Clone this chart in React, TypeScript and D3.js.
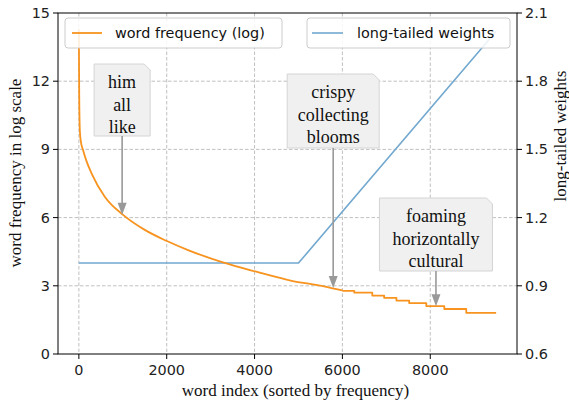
import React from "react";
import * as d3 from "d3";

// word frequency (log)
const freqIdx = [0, 3, 8, 23, 45, 98, 180, 288, 590, 1007, 1500, 1992, 2500, 3280, 4038, 4871, 5400, 5780, 6000];
const freqVal = [14.3, 13.0, 11.4, 9.8, 9.35, 8.95, 8.45, 7.95, 6.92, 6.12, 5.46, 4.98, 4.56, 4.03, 3.62, 3.21, 3.04, 2.89, 2.8];
// stepped tail of the same series
const tailIdx = [6000, 6270, 6680, 6950, 7230, 7520, 7910, 8320, 8820, 9500];
const tailVal = [2.78, 2.7, 2.57, 2.47, 2.35, 2.24, 2.11, 1.98, 1.81, 1.81];

// long-tailed weights
const weightIdx = [0, 5000, 9500];
const weightVal = [1.0, 1.0, 2.02];

const xTicks = [0, 2000, 4000, 6000, 8000];
const yTicks = [0, 3, 6, 9, 12, 15];
const y2Ticks = [0.6, 0.9, 1.2, 1.5, 1.8, 2.1];

const noteWords = [
  ["him", "all", "like"],
  ["crispy", "collecting", "blooms"],
  ["foaming", "horizontally", "cultural"],
];
const noteIdx = [985, 5790, 8130];
const noteVal = [6.12, 2.9, 2.1];

const W = 569,
  H = 407;
const margin = { top: 13, right: 52, bottom: 53, left: 58 };

const ORANGE = "#f7931e";
const BLUE = "#72a8cf";

// box layout (pixels): top, bottom, width
const noteBox = [
  { top: 64, bottom: 136, width: 56 },
  { top: 74, bottom: 148, width: 92 },
  { top: 198, bottom: 271, width: 113 },
];

const App: React.FC = () => {
  const x = d3
    .scaleLinear()
    .domain([-475, 9975])
    .range([margin.left, W - margin.right]);
  const y = d3
    .scaleLinear()
    .domain([0, 15])
    .range([H - margin.bottom, margin.top]);
  const y2 = d3
    .scaleLinear()
    .domain([0.6, 2.1])
    .range([H - margin.bottom, margin.top]);

  const smooth = d3
    .line<number>()
    .x((d) => x(freqIdx[d]))
    .y((d) => y(freqVal[d]))
    .curve(d3.curveMonotoneX);
  const steps = d3
    .line<number>()
    .x((d) => x(tailIdx[d]))
    .y((d) => y(tailVal[d]))
    .curve(d3.curveStepAfter);
  const wline = d3
    .line<number>()
    .x((d) => x(weightIdx[d]))
    .y((d) => y2(weightVal[d]));

  const x0 = margin.left,
    x1 = W - margin.right,
    yTop = margin.top,
    yBot = H - margin.bottom;

  const sans = "'DejaVu Sans', sans-serif";
  const serif = "'Liberation Serif', 'Times New Roman', serif";

  return (
    <div style={{ position: "fixed", left: 0, top: 0 }}>
      <svg width={W} height={H} style={{ display: "block", background: "#fff" }}>
        <defs>
          <clipPath id="plot">
            <rect x={x0} y={yTop} width={x1 - x0} height={yBot - yTop} />
          </clipPath>
        </defs>

        {/* grid */}
        <g stroke="#b0b0b0" strokeWidth={0.8} strokeDasharray="3.5,2">
          {xTicks.map((t) => (
            <line key={"gx" + t} x1={x(t)} x2={x(t)} y1={yTop} y2={yBot} />
          ))}
          {yTicks.slice(1, -1).map((t) => (
            <line key={"gy" + t} x1={x0} x2={x1} y1={y(t)} y2={y(t)} />
          ))}
        </g>

        {/* series */}
        <g clipPath="url(#plot)" fill="none" strokeLinejoin="round">
          <path d={wline(d3.range(weightIdx.length))!} stroke={BLUE} strokeWidth={1.6} />
          <path d={smooth(d3.range(freqIdx.length))!} stroke={ORANGE} strokeWidth={1.8} />
          <path d={steps(d3.range(tailIdx.length))!} stroke={ORANGE} strokeWidth={1.8} />
        </g>

        {/* annotations */}
        {noteWords.map((words, i) => {
          const b = noteBox[i];
          const cx = x(noteIdx[i]);
          const l = cx - b.width / 2,
            r = cx + b.width / 2,
            c = 6;
          const tipY = y(noteVal[i]);
          return (
            <g key={"note" + i}>
              <path
                d={`M${l},${b.top}H${r - c}L${r},${b.top + c}V${b.bottom}H${l}Z`}
                fill="#f0f0f0"
                stroke="#d4d4d4"
                strokeWidth={1}
              />
              <line x1={cx} x2={cx} y1={b.bottom} y2={tipY - 10} stroke="#999" strokeWidth={1.6} />
              <path d={`M${cx - 4.5},${tipY - 12}L${cx + 4.5},${tipY - 12}L${cx},${tipY}Z`} fill="#999" />
              {words.map((w, j) => (
                <text
                  key={w}
                  x={cx}
                  y={b.top + 24 + j * 22.5}
                  textAnchor="middle"
                  fontFamily={serif}
                  fontSize={18}
                  fill="#111"
                >
                  {w}
                </text>
              ))}
            </g>
          );
        })}

        {/* frame */}
        <rect x={x0} y={yTop} width={x1 - x0} height={yBot - yTop} fill="none" stroke="#000" strokeWidth={1} />

        {/* bottom axis */}
        {xTicks.map((t) => (
          <g key={"xt" + t} transform={`translate(${x(t)},${yBot})`}>
            <line y2={5} stroke="#000" />
            <text y={21} textAnchor="middle" fontFamily={sans} fontSize={14.4} fill="#222">
              {t}
            </text>
          </g>
        ))}
        {/* left axis */}
        {yTicks.map((t) => (
          <g key={"yt" + t} transform={`translate(${x0},${y(t)})`}>
            <line x2={-5} stroke="#000" />
            <text x={-8} dy="0.35em" textAnchor="end" fontFamily={sans} fontSize={14.4} fill="#222">
              {t}
            </text>
          </g>
        ))}
        {/* right axis */}
        {y2Ticks.map((t) => (
          <g key={"y2t" + t} transform={`translate(${x1},${y2(t)})`}>
            <line x2={5} stroke="#000" />
            <text x={8} dy="0.35em" textAnchor="start" fontFamily={sans} fontSize={14.4} fill="#222">
              {d3.format(".1f")(t)}
            </text>
          </g>
        ))}

        {/* axis labels */}
        <text x={(x0 + x1) / 2 + 8} y={396} textAnchor="middle" fontFamily={serif} fontSize={17} fill="#111">
          word index (sorted by frequency)
        </text>
        <text
          transform={`translate(15,173) rotate(-90)`}
          textAnchor="middle"
          dominantBaseline="central"
          fontFamily={serif}
          fontSize={17}
          fill="#111"
        >
          word frequency in log scale
        </text>
        <text
          transform={`translate(560,136) rotate(-90)`}
          textAnchor="middle"
          dominantBaseline="central"
          fontFamily={serif}
          fontSize={17}
          fill="#111"
        >
          long-tailed weights
        </text>

        {/* legends */}
        <g>
          <rect x={65} y={18} width={217} height={30} rx={3} fill="#fff" fillOpacity={0.85} stroke="#cccccc" />
          <line x1={72} x2={102} y1={33} y2={33} stroke={ORANGE} strokeWidth={1.8} />
          <text x={115} y={33} dy="0.35em" fontFamily={sans} fontSize={14.4} fill="#111">
            word frequency (log)
          </text>
        </g>
        <g>
          <rect x={307} y={18} width={203} height={30} rx={3} fill="#fff" fillOpacity={0.85} stroke="#cccccc" />
          <line x1={312} x2={343} y1={33} y2={33} stroke={BLUE} strokeWidth={1.6} />
          <text x={357} y={33} dy="0.35em" fontFamily={sans} fontSize={14.4} fill="#111">
            long-tailed weights
          </text>
        </g>
      </svg>
    </div>
  );
};

export default App;
